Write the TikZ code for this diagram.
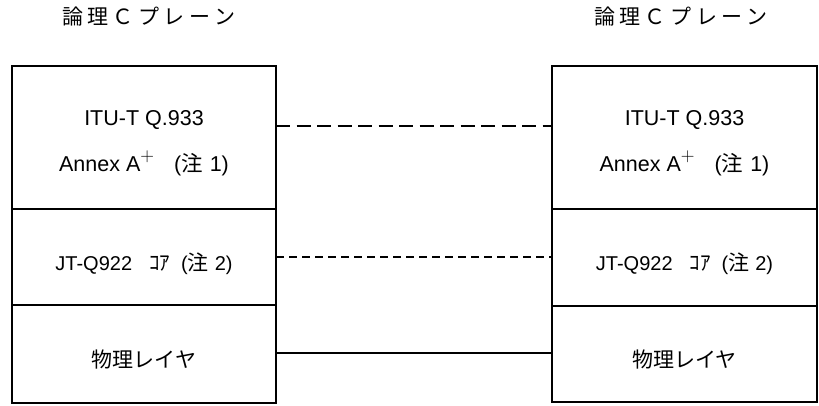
\documentclass[tikz,border=0pt]{standalone}
\usepackage{fontspec}
\newfontfamily\lat{Liberation Sans}
\newfontfamily\cjk{Noto Sans CJK JP}
\begin{document}
\begin{tikzpicture}[x=1pt,y=-1pt,
  layer/.style={draw=black,line width=1.8pt,rectangle,inner sep=0pt,outer sep=0pt},
  conn/.style={draw=black,line width=1.5pt},
  lblbig/.style={inner sep=0pt,anchor=base,font=\lat\fontsize{21.5}{21.5}\selectfont},
  lblsmall/.style={inner sep=0pt,anchor=base,font=\lat\fontsize{20}{20}\selectfont},
  cjklbl/.style={inner sep=0pt,anchor=center,font=\cjk\fontsize{21}{21}\selectfont},
  titlelbl/.style={inner sep=0pt,anchor=center,font=\cjk\fontsize{21}{21}\selectfont}]
\useasboundingbox (0,0) rectangle (819,405);
\fill[white] (0,0) rectangle (819,405);

% left stack
\node[layer,minimum width=264pt,minimum height=143pt] (L1) at (144,137.5) {};
\node[layer,minimum width=264pt,minimum height=96pt] (L2) at (144,257) {};
\node[layer,minimum width=264pt,minimum height=98pt] (L3) at (144,354) {};
% right stack
\node[layer,minimum width=265pt,minimum height=143pt] (R1) at (684.5,137.5) {};
\node[layer,minimum width=265pt,minimum height=97pt] (R2) at (684.5,257.5) {};
\node[layer,minimum width=265pt,minimum height=96pt] (R3) at (684.5,354) {};

% titles
\node[titlelbl] (TL) at (149,17) {論\hspace{4.5pt}理\hspace{4.5pt}Ｃ\hspace{4.5pt}プ\hspace{4.5pt}レ\hspace{4.5pt}ー\hspace{4.5pt}ン};
\node[titlelbl] (TR) at (681,17) {論\hspace{4.5pt}理\hspace{4.5pt}Ｃ\hspace{4.5pt}プ\hspace{4.5pt}レ\hspace{4.5pt}ー\hspace{4.5pt}ン};

% left texts
\node[lblbig] (L1a) at (144,125) {ITU-T Q.933};
\node[lblbig] (L1b) at (144,171) {Annex A\raisebox{10pt}{\rmfamily\fontsize{19}{19}\selectfont +}\hspace{20pt}({\cjk 注}\hspace{7pt}1)};
\node[lblsmall] (L2a) at (144,270) {JT-Q922\hspace{17pt}{\cjk\fontsize{21}{21}\selectfont ｺｱ}\hspace{11pt}({\cjk\fontsize{21}{21}\selectfont 注}\hspace{6pt}2)};
\node[cjklbl] (L3a) at (144,360) {物理レイヤ};

% right texts
\node[lblbig] (R1a) at (684.5,125) {ITU-T Q.933};
\node[lblbig] (R1b) at (684.5,171) {Annex A\raisebox{10pt}{\rmfamily\fontsize{19}{19}\selectfont +}\hspace{20pt}({\cjk 注}\hspace{7pt}1)};
\node[lblsmall] (R2a) at (684.5,270) {JT-Q922\hspace{17pt}{\cjk\fontsize{21}{21}\selectfont ｺｱ}\hspace{11pt}({\cjk\fontsize{21}{21}\selectfont 注}\hspace{6pt}2)};
\node[cjklbl] (R3a) at (684.5,360) {物理レイヤ};

% connectors
\draw[conn,dash pattern=on 14pt off 6.5pt] ([yshift=11.5pt]L1.east) -- ([yshift=11.5pt]R1.west);
\draw[conn,dash pattern=on 8pt off 5pt] (L2.east) -- (L2.east -| R2.west);
\draw[conn] ([yshift=1pt]L3.east) -- ([yshift=1pt]L3.east -| R3.west);
\end{tikzpicture}
\end{document}
